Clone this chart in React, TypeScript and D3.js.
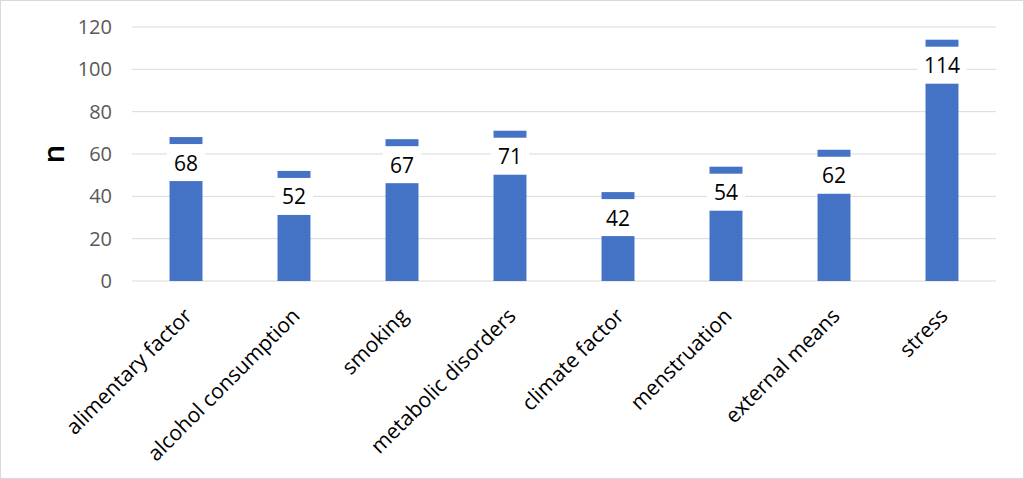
import { useRef, useEffect } from "react";
import * as d3 from "d3";

const categories = [
  "alimentary factor",
  "alcohol consumption",
  "smoking",
  "metabolic disorders",
  "climate factor",
  "menstruation",
  "external means",
  "stress",
];
const counts = [68, 52, 67, 71, 42, 54, 62, 114];
const yTicks = [0, 20, 40, 60, 80, 100, 120];

const FONT = "'Open Sans', 'Liberation Sans', sans-serif";

export default function App() {
  const svgRef = useRef<SVGSVGElement>(null);

  useEffect(() => {
    if (!svgRef.current) return;
    document.body.style.margin = "0";

    const width = 1024;
    const height = 479;
    const margin = { top: 27, right: 28, bottom: 198, left: 132 };
    const innerWidth = width - margin.left - margin.right;
    const innerHeight = height - margin.top - margin.bottom;

    const svg = d3.select(svgRef.current);
    svg.selectAll("*").remove();
    svg.attr("width", width).attr("height", height).attr("viewBox", `0 0 ${width} ${height}`);

    svg
      .append("rect")
      .attr("x", 0.5)
      .attr("y", 0.5)
      .attr("width", width - 1)
      .attr("height", height - 1)
      .attr("fill", "#fff")
      .attr("stroke", "#d9d9d9");

    const g = svg.append("g").attr("transform", `translate(${margin.left},${margin.top})`);

    const x = d3.scaleBand().domain(categories).range([0, innerWidth]).paddingInner(0.695).paddingOuter(0.3475);
    const y = d3.scaleLinear().domain([0, 120]).range([innerHeight, 0]);

    // gridlines
    g.selectAll(".grid")
      .data(yTicks)
      .join("line")
      .attr("x1", 0)
      .attr("x2", innerWidth)
      .attr("y1", (d) => y(d))
      .attr("y2", (d) => y(d))
      .attr("stroke", "#d9d9d9")
      .attr("stroke-width", 1);

    // y tick labels
    g.selectAll(".ytick")
      .data(yTicks)
      .join("text")
      .attr("x", -20)
      .attr("y", (d) => y(d))
      .attr("dy", "0.35em")
      .attr("text-anchor", "end")
      .style("font-family", FONT)
      .style("font-size", "20px")
      .style("fill", "#595959")
      .text((d) => d);

    // y title
    svg
      .append("text")
      .attr("transform", `translate(64,154) rotate(-90)`)
      .attr("text-anchor", "middle")
      .style("font-family", FONT)
      .style("font-size", "29px")
      .style("font-weight", 600)
      .style("fill", "#000")
      .text("n");

    const data = categories.map((c, i) => ({ c, v: counts[i] }));

    // bars
    g.selectAll(".bar")
      .data(data)
      .join("rect")
      .attr("x", (d) => x(d.c) ?? 0)
      .attr("y", (d) => y(d.v))
      .attr("width", x.bandwidth())
      .attr("height", (d) => innerHeight - y(d.v))
      .attr("fill", "#4472c4");

    // data labels with white boxes
    const labels = g
      .selectAll(".lbl")
      .data(data)
      .join("g")
      .attr("transform", (d) => `translate(${(x(d.c) ?? 0) + x.bandwidth() / 2},${y(d.v) + 26})`);

    labels
      .append("rect")
      .attr("x", (d) => -(String(d.v).length * 12) / 2 - 7)
      .attr("y", -19)
      .attr("width", (d) => String(d.v).length * 12 + 14)
      .attr("height", 37)
      .attr("fill", "#fff");

    labels
      .append("text")
      .attr("dy", "0.36em")
      .attr("text-anchor", "middle")
      .style("font-family", FONT)
      .style("font-size", "21px")
      .style("fill", "#000")
      .text((d) => d.v);

    // category labels
    g.selectAll(".xlbl")
      .data(categories)
      .join("text")
      .attr("transform", (d) => `translate(${(x(d) ?? 0) + x.bandwidth() / 2 + 2},${innerHeight + 31}) rotate(-45)`)
      .attr("text-anchor", "end")
      .attr("dy", "0.35em")
      .style("font-family", FONT)
      .style("font-size", "21px")
      .style("fill", "#000")
      .text((d) => d);
  }, []);

  return <svg ref={svgRef} style={{ display: "block" }} />;
}
